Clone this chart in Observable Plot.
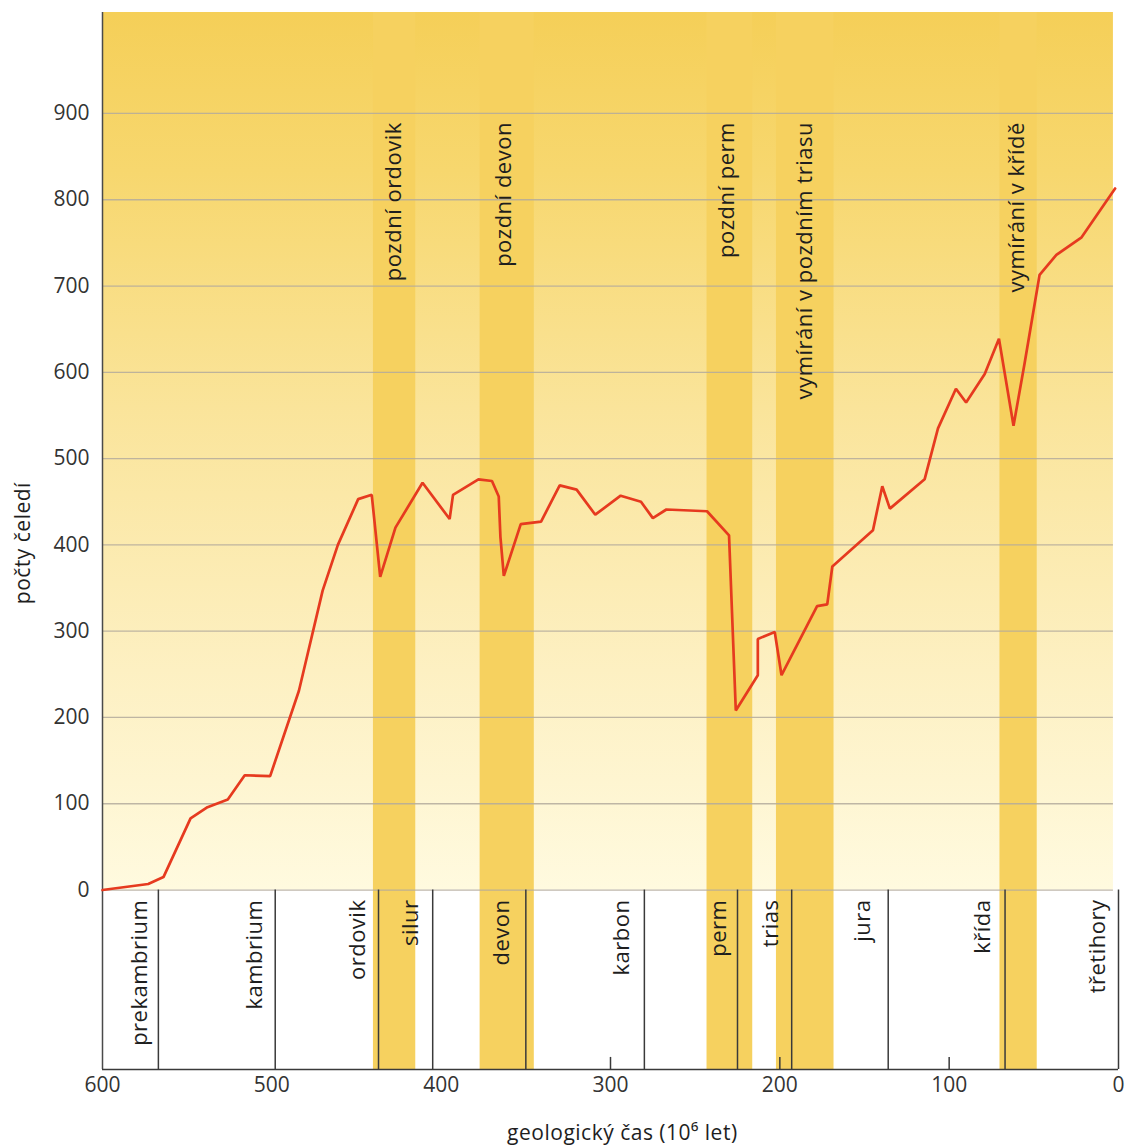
<!DOCTYPE html>
<html><head><meta charset="utf-8">
<script src="https://cdn.jsdelivr.net/npm/d3@7"></script>
<script src="https://cdn.jsdelivr.net/npm/@observablehq/plot@0.6"></script>
<style>
body{margin:0;background:#fff}
.rot text{letter-spacing:0.5px}
.ttl text{letter-spacing:0.5px}
</style>
</head><body><div id="chart"></div>
<script>
// Data
const years    = [600,573,564,548,538,526,516,501,484,470,461,449,441,436,427,411,395,393,378,370,366,365,363,353,341,330,320,309,294,282,275,267,243,230,226,213,213,203,199,178,172,169,145,139.5,135,114.5,106.6,96,90,79,70.6,62,55.5,46.6,36.7,22,2];
const families = [0,7,15,83,96,105,133,132,231,347,400,453,458,363,420,472,430,458,476,474,456,409,364,424,427,469,464,435,457,450,431,441,439,411,208,249,291,299,249,329,331,375,417,468,442,476,535,581,565,598,639,538,610,713,736,756,813];

const bandStart  = [440,377,243,202,70];
const bandEnd    = [415,345,216,168,48];
const bandLabels = ["pozdní ordovik","pozdní devon","pozdní perm","vymírání v pozdním triasu","vymírání v křídě"];
const bandLabelX = [428,363,231,185,60];

const periodBounds = [567,498,437,405,350,280,225,193,136,67];
const periodNames  = ["prekambrium","kambrium","ordovik","silur","devon","karbon","perm","trias","jura","křída","třetihory"];
const periodLabelX = [578,510,449,418,364,293,236,205,151,80,12];

const yTicks = [0,100,200,300,400,500,600,700,800,900];
const xTicks = [600,500,400,300,200,100,0];
const innerTicks = [300,200,100];

const yLabel = "počty čeledí";
const xLabel = "geologický čas (10⁶ let)";

const data = years.map((y,i)=>({year:y, n:families[i]}));
const bands = bandStart.map((s,i)=>({x1:s, x2:bandEnd[i], label:bandLabels[i], lx:bandLabelX[i]}));
const periods = periodNames.map((p,i)=>({name:p, x:periodLabelX[i]}));

const font = "'Open Sans', 'Noto Sans', sans-serif";

const chart = Plot.plot({
  width: 1127, height: 1147,
  marginLeft: 102, marginRight: 9, marginTop: 12, marginBottom: 78,
  style: {fontFamily: font, fontSize: "21px", color: "#2a2a2a", background: "#fff"},
  x: {domain: [600, 0], axis: null},
  y: {domain: [-208, 1017], axis: null},
  marks: [
    Plot.rect([0], {x1: 600, x2: 3, y1: 0, y2: 1017, fill: "url(#bg)"}),
    Plot.rect(bands, {x1: "x1", x2: "x2", y1: -208, y2: 1017, fill: "#f6d15f"}),
    Plot.ruleY(yTicks, {x1: 600, x2: 3, stroke: "#b3aa9c", strokeWidth: 1.3, strokeOpacity: 0.85}),
    Plot.ruleX(periodBounds, {y1: -208, y2: 0, stroke: "#3a3a3a", strokeWidth: 1.5}),
    Plot.ruleX([0], {y1: -208, y2: 0, stroke: "#3a3a3a", strokeWidth: 1.5}),
    Plot.ruleX(innerTicks, {y1: -208, y2: -194, stroke: "#3a3a3a", strokeWidth: 1.5}),
    Plot.ruleX([600], {y1: -208, y2: 1017, stroke: "#4a4a4a", strokeWidth: 1.5}),
    Plot.ruleY([-208], {x1: 600, x2: 0, stroke: "#3a3a3a", strokeWidth: 1.5}),
    Plot.line(data, {x: "year", y: "n", stroke: "#e63a1f", strokeWidth: 2.7, strokeLinejoin: "miter"}),
    Plot.text(bands, {x: "lx", y: 890, text: "label", rotate: -90, textAnchor: "end", lineAnchor: "middle", fontSize: 22, fill: "#1e1e1e", className: "rot"}),
    Plot.text(periods, {x: "x", y: -11, text: "name", rotate: -90, textAnchor: "end", lineAnchor: "middle", fontSize: 22, fill: "#1e1e1e", className: "rot"}),
    Plot.axisY({ticks: yTicks, tickSize: 0, tickPadding: 13, fontSize: 21, label: null, fill: "#333"}),
    Plot.axisX({ticks: xTicks, tickSize: 0, tickPadding: 8, fontSize: 21, label: null, fill: "#333", tickFormat: d => String(d)}),
    Plot.text([yLabel], {frameAnchor: "left", y: 402, dx: -79, rotate: -90, text: d => d, textAnchor: "middle", lineAnchor: "middle", fontSize: 21, fill: "#1e1e1e", className: "ttl"}),
    Plot.text([xLabel], {frameAnchor: "bottom", x: 293, dy: 64, text: d => d, textAnchor: "middle", lineAnchor: "middle", fontSize: 21, fill: "#1e1e1e", className: "ttl"})
  ]
});

const ns = "http://www.w3.org/2000/svg";
const defs = document.createElementNS(ns, "defs");
defs.innerHTML = `<linearGradient id="bg" x1="0" y1="0" x2="0" y2="1">
  <stop offset="0" stop-color="#f5cf58"/>
  <stop offset="0.18" stop-color="#f7d76e"/>
  <stop offset="0.45" stop-color="#fae49a"/>
  <stop offset="0.75" stop-color="#fdf0c2"/>
  <stop offset="1" stop-color="#fffadf"/>
</linearGradient>`;
chart.insertBefore(defs, chart.firstChild);
document.getElementById("chart").appendChild(chart);
</script>
</body></html>
